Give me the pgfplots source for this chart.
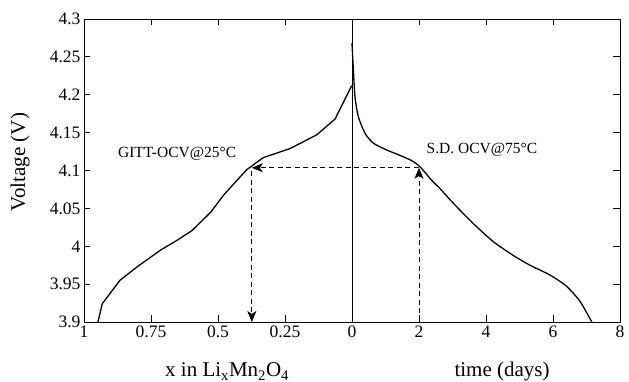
\documentclass[border=0pt]{standalone}
\usepackage{fontspec}
\setmainfont{Liberation Serif}
\usepackage{pgfplots}
\pgfplotsset{compat=1.18}
\usepackage{pgfplotstable}
\usetikzlibrary{arrows.meta}

\pgfplotstableread{
x V
0.948 3.900
0.932 3.924
0.866 3.955
0.801 3.973
0.714 3.995
0.652 4.008
0.596 4.021
0.527 4.045
0.478 4.068
0.393 4.101
0.331 4.117
0.231 4.129
0.132 4.147
0.063 4.168
0.001 4.212
}\gittdata

\pgfplotstableread{
t V
0.00 4.268
0.03 4.242
0.09 4.197
0.19 4.171
0.39 4.149
0.64 4.136
1.04 4.127
1.43 4.120
1.78 4.113
2.03 4.105
2.38 4.087
2.63 4.076
3.02 4.057
3.62 4.030
4.22 4.006
4.81 3.988
5.31 3.975
5.91 3.962
6.41 3.947
6.81 3.927
7.16 3.900
}\sddata

\begin{document}
\begin{tikzpicture}
\useasboundingbox (-84pt,-60pt) rectangle (545pt,322pt);
\begin{axis}[
  at={(0,0)}, anchor=south west,
  scale only axis, width=536pt, height=303pt,
  xmin=-8, xmax=8, ymin=3.9, ymax=4.3,
  xtick={-8,-6,-4,-2,0,2,4,6,8},
  xticklabels={1,0.75,0.5,0.25,0,2,4,6,8},
  ytick={3.9,3.95,4,4.05,4.1,4.15,4.2,4.25,4.3},
  yticklabels={3.9,3.95,4,4.05,4.1,4.15,4.2,4.25,4.3},
  tick align=inside, major tick length=6.5pt,
  xtick pos=both, ytick pos=both,
  xticklabel pos=lower, yticklabel pos=left,
  /pgf/number format/assume math mode=true,
  tick label style={font=\fontsize{17.5}{20}\selectfont, black},
  axis line style={line width=0.9pt, black},
  tick style={line width=0.9pt, black},
  clip=false,
]
\addplot[black, line width=1.3pt, mark=none] table[x expr=-8*\thisrow{x}, y=V] {\gittdata};
\addplot[black, line width=1.3pt, mark=none, smooth, tension=0.4] table[x=t, y=V] {\sddata};
\addplot[black, line width=0.5pt, mark=none] coordinates {(0,3.9) (0,4.3)};

\addplot[black, line width=0.7pt, dash pattern=on 5pt off 3.5pt, mark=none,
  -{Stealth[length=11pt,width=9pt,inset=3pt]}] coordinates {(2,4.1036) (-2.99,4.1036)};
\addplot[black, line width=0.7pt, dash pattern=on 5pt off 3.5pt, mark=none,
  -{Stealth[length=11pt,width=9pt,inset=3pt]}] coordinates {(-2.99,4.099) (-2.99,3.9)};
\addplot[black, line width=0.7pt, dash pattern=on 5pt off 3.5pt, mark=none,
  -{Stealth[length=11pt,width=9pt,inset=3pt]}] coordinates {(2,3.9) (2,4.1036)};

\node[font=\fontsize{15.5}{18}\selectfont, anchor=center] at (axis cs:-5.22,4.1218) {GITT-OCV@25°C};
\node[font=\fontsize{15.5}{18}\selectfont, anchor=center] at (axis cs:3.88,4.127) {S.D. OCV@75°C};

\node[font=\fontsize{21}{24}\selectfont, rotate=90, anchor=center] at (axis description cs:-0.119,0.528) {Voltage (V)};
\node[font=\fontsize{21}{24}\selectfont, anchor=base] at (axis description cs:0.267,-0.1815) {x in Li\textsubscript{x}Mn\textsubscript{2}O\textsubscript{4}};
\node[font=\fontsize{21}{24}\selectfont, anchor=base] at (axis description cs:0.780,-0.1815) {time (days)};
\end{axis}
\end{tikzpicture}
\end{document}
